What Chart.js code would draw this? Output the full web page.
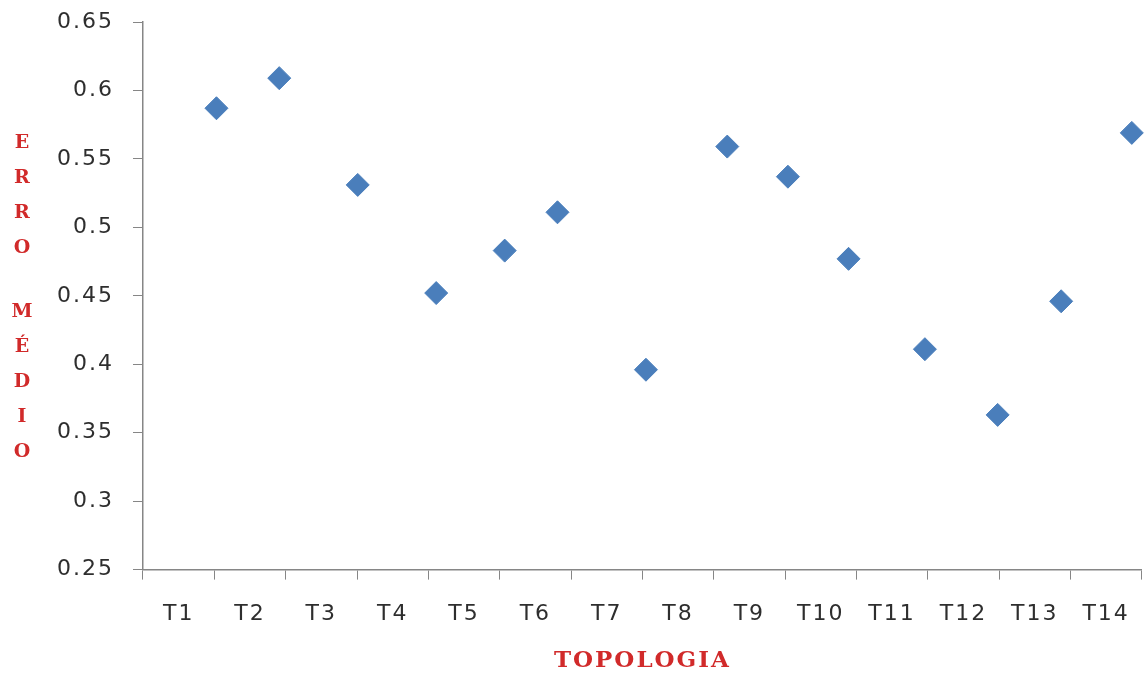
<!DOCTYPE html>
<html>
<head>
<meta charset="utf-8">
<script src="https://cdn.jsdelivr.net/npm/chart.js@4/dist/chart.umd.min.js"></script>
<style>
  html, body { margin: 0; padding: 0; background: #ffffff; }
  canvas { display: block; }
</style>
</head>
<body>
<canvas id="chart" width="1148" height="673"></canvas>
<script>
// category labels along the bottom axis
var topologias = ["T1", "T2", "T3", "T4", "T5", "T6", "T7", "T8", "T9", "T10", "T11", "T12", "T13", "T14"];

// x position of each point (in category units, 0 .. 14) and mean error
var posX = [1.03, 1.91, 3.01, 4.11, 5.07, 5.81, 7.05, 8.19, 9.04, 9.89, 10.96, 11.98, 12.87, 13.86];
var erroMedio = [0.587, 0.609, 0.531, 0.452, 0.483, 0.511, 0.396, 0.559, 0.537, 0.477, 0.411, 0.363, 0.446, 0.569];

// y axis range / step
var yMin = 0.25;
var yMax = 0.65;
var yStep = 0.05;

// axis titles
var xTitle = "TOPOLOGIA";
var yTitleLetters = ["E", "R", "R", "O", "", "M", "É", "D", "I", "O"];

var points = posX.map(function(x, i) { return { x: x, y: erroMedio[i] }; });

var axisColor = "#868686";
var labelColor = "#2e2e2e";
var titleColor = "#d12a2a";

// wider text like the original, and the stacked vertical y title
var textPlugin = {
    id: "textStyle",
    beforeDraw: function(chart) {
        chart.ctx.letterSpacing = "2px";
    },
    afterDraw: function(chart) {
        var ctx = chart.ctx;
        ctx.save();
        ctx.letterSpacing = "0px";
        ctx.fillStyle = titleColor;
        ctx.font = "bold 19px 'DejaVu Serif'";
        ctx.textAlign = "center";
        ctx.textBaseline = "middle";
        var y = 143;
        for (var i = 0; i < yTitleLetters.length; i++) {
            if (yTitleLetters[i] === "") {
                y += 29;
                continue;
            }
            ctx.fillText(yTitleLetters[i], 22, y);
            y += 35;
        }
        ctx.restore();
        ctx.letterSpacing = "0px";
    }
};

new Chart(document.getElementById("chart"), {
    type: "scatter",
    data: {
        datasets: [{
            data: points,
            pointStyle: "rectRot",
            pointRadius: 11.5,
            pointHoverRadius: 11.5,
            backgroundColor: "#4A7EBB",
            borderColor: "#4A7EBB",
            borderWidth: 1,
            clip: false
        }]
    },
    options: {
        responsive: false,
        devicePixelRatio: 1,
        animation: false,
        layout: {
            autoPadding: false,
            padding: { left: 46, right: 5, top: 22, bottom: 0 }
        },
        plugins: {
            legend: { display: false },
            tooltip: { enabled: false }
        },
        scales: {
            x: {
                type: "linear",
                min: 0,
                max: topologias.length,
                afterBuildTicks: function(scale) {
                    // labels sit between the tick marks
                    scale.ticks = topologias.map(function(t, i) { return { value: i + 0.5 }; });
                },
                ticks: {
                    autoSkip: false,
                    maxRotation: 0,
                    padding: 21,
                    color: labelColor,
                    font: { family: "'DejaVu Sans'", size: 22 },
                    callback: function(value, index) { return topologias[index]; }
                },
                grid: {
                    offset: true,
                    drawOnChartArea: false,
                    drawTicks: true,
                    tickLength: 10,
                    tickColor: axisColor,
                    color: axisColor
                },
                border: { color: axisColor, width: 1.5 },
                title: {
                    display: true,
                    text: xTitle,
                    color: titleColor,
                    font: { family: "'DejaVu Serif'", size: 23, weight: "bold", lineHeight: 1 },
                    padding: { top: 2, bottom: 0 }
                }
            },
            y: {
                min: yMin,
                max: yMax,
                afterFit: function(scale) {
                    // the label padding should not push the plot top down
                    scale.paddingTop = 0;
                    scale.paddingBottom = 0;
                },
                ticks: {
                    stepSize: yStep,
                    padding: 19,
                    color: labelColor,
                    font: { family: "'DejaVu Sans'", size: 22 },
                    callback: function(value) { return String(+value.toFixed(2)); }
                },
                grid: {
                    drawOnChartArea: false,
                    drawTicks: true,
                    tickLength: 10,
                    tickColor: axisColor,
                    color: axisColor
                },
                border: { color: axisColor, width: 1.5 }
            }
        }
    },
    plugins: [textPlugin]
});
</script>
</body>
</html>
